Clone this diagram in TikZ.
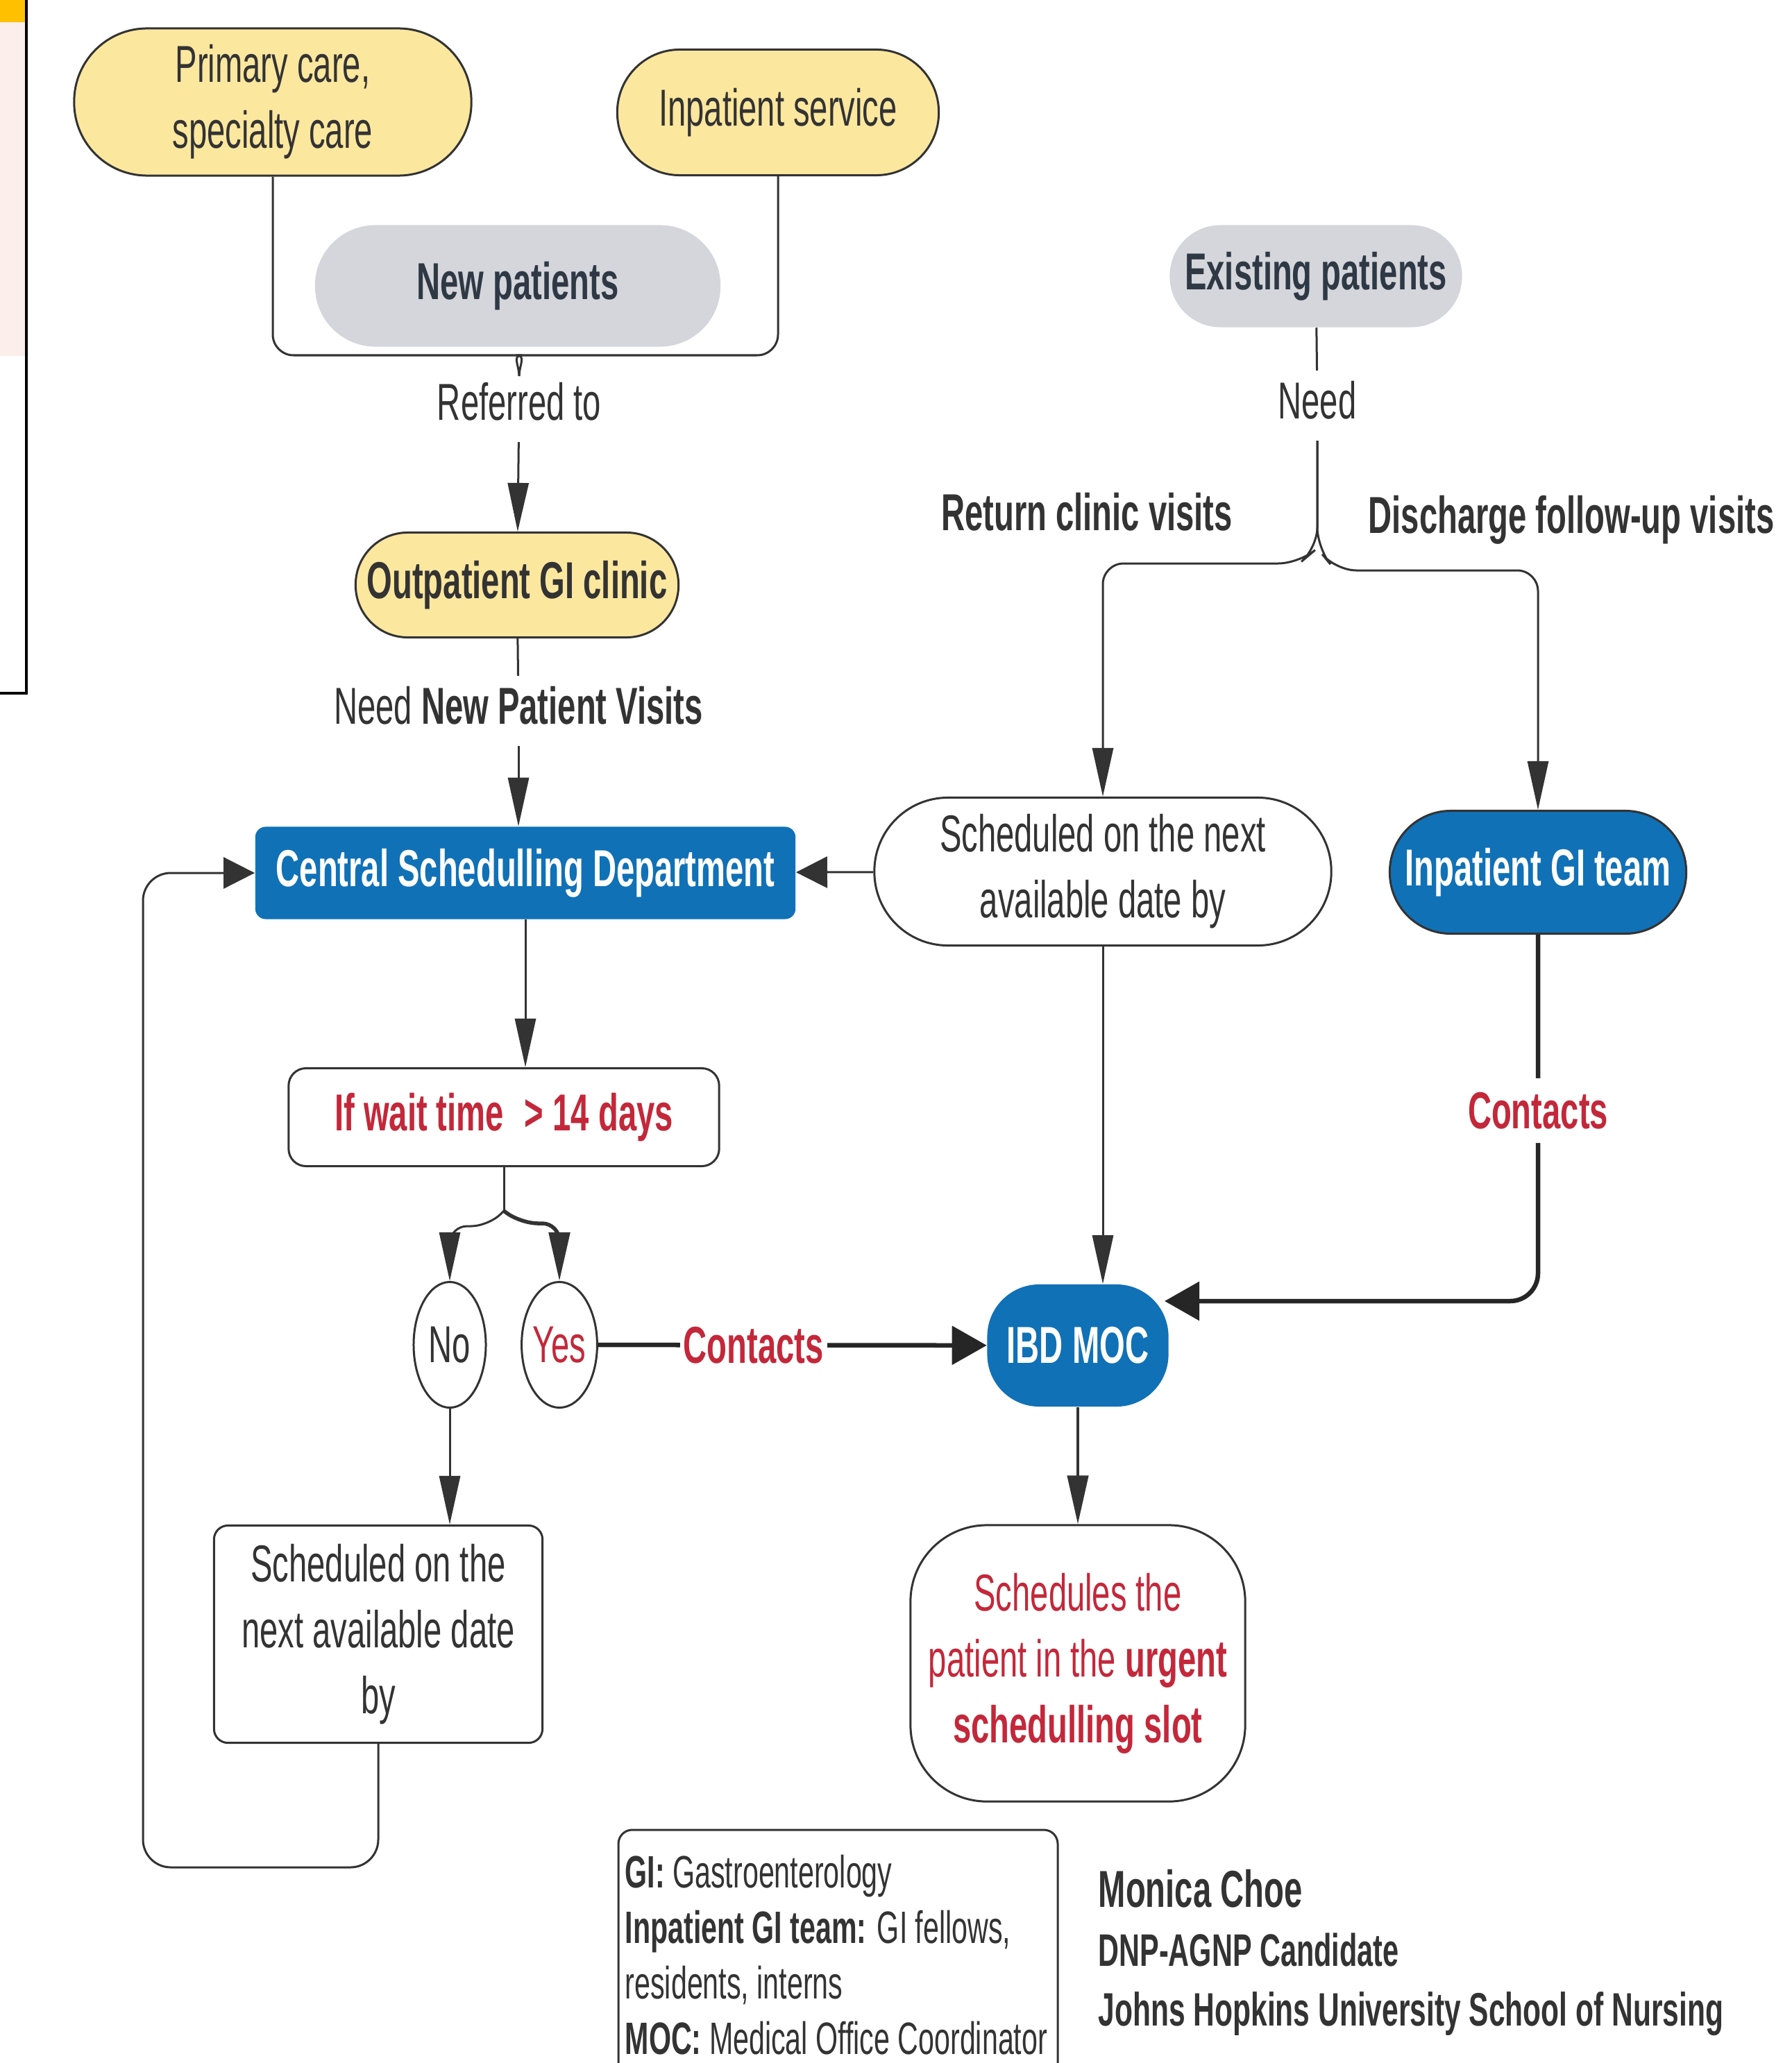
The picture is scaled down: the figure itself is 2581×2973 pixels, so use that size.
\documentclass[tikz,border=0pt]{standalone}
\usepackage{fontspec}
\setmainfont[FakeStretch=0.63]{Liberation Sans}
\usetikzlibrary{arrows.meta,shapes.geometric}

\definecolor{pillyellow}{HTML}{FCE79F}
\definecolor{pillgray}{HTML}{D4D6DB}
\definecolor{graytext}{HTML}{2F3945}
\definecolor{schedblue}{HTML}{1071B7}
\definecolor{alertred}{HTML}{C3283A}
\definecolor{linegray}{HTML}{333333}
\definecolor{tabyellow}{HTML}{FFC000}
\definecolor{tabpink}{HTML}{FCEEEA}

\newcommand{\mainsize}{\fontsize{21.3}{27}\selectfont}

\begin{document}
\begin{tikzpicture}[x=0.01cm, y=-0.01cm,
    every node/.style={font=\mainsize, text=linegray, inner sep=0pt, align=center},
    base/.style={draw=linegray, line width=0.3mm},
    ylw/.style={base, fill=pillyellow},
    greypill/.style={fill=pillgray, text=graytext, font=\mainsize\bfseries},
    bluepill/.style={fill=schedblue, text=white, font=\mainsize\bfseries},
    redbold/.style={text=alertred, font=\mainsize\bfseries},
    conn/.style={draw=linegray, line width=0.3mm},
    arr/.style={conn, -{Triangle[length=7mm,width=3mm]}},
    wide/.style={conn, -{Triangle[length=4.5mm,width=4.5mm]}},
    heavy/.style={draw=black!85, line width=0.65mm, -{Triangle[length=5mm,width=5.5mm]}}]
    \path[use as bounding box] (0,0) rectangle (2581,2973);
    \clip (0,0) rectangle (2581,2973);
    \fill[white] (0,0) rectangle (2581,2973);

    \fill[tabyellow] (0,0) rectangle (37,32);
    \fill[tabpink] (0,32) rectangle (37,513);
    \draw[line width=0.4mm, black] (38,0) -- (38,999) -- (0,999);

    \node[ylw, rounded corners=10.5mm, minimum width=57.2mm, minimum height=21.2mm] (primary) at (393,147) {Primary care,\\specialty care};
    \node[ylw, rounded corners=9mm, minimum width=46.3mm, minimum height=18.1mm] (inpatient) at (1121,162) {Inpatient service};
    \node[greypill, rounded corners=8.7mm, minimum width=58.4mm, minimum height=17.5mm] (newpat) at (746,412) {New patients};
    \node (referred) at (748,579) {Referred to};
    \node[ylw, rounded corners=7.5mm, minimum width=46.5mm, minimum height=15.1mm, font=\mainsize\bfseries] (outpatient) at (745,843) {Outpatient GI clinic};
    \node (needvisits) at (747,1017) {Need \textbf{New Patient Visits}};
    \node[greypill, rounded corners=7.3mm, minimum width=42.1mm, minimum height=14.7mm] (existing) at (1896,398) {Existing patients};
    \node (need) at (1898,577) {Need};
    \node[font=\mainsize\bfseries] (returnlbl) at (1566,738) {Return clinic visits};
    \node[font=\mainsize\bfseries] (dischargelbl) at (2264,749) {Discharge follow-up visits};
    \node[base, fill=white, rounded corners=10.6mm, minimum width=65.8mm, minimum height=21.3mm] (schedr) at (1589,1256) {Scheduled on the next\\available date by};
    \node[bluepill, draw=linegray, line width=0.3mm, rounded corners=8.8mm, minimum width=42.7mm, minimum height=17.7mm] (ingi) at (2216,1257) {Inpatient GI team};
    \node[bluepill, rounded corners=1.5mm, minimum width=77.8mm, minimum height=13.3mm] (central) at (757,1258) {Central Schedulling Department};
    \node[base, redbold, rounded corners=2.5mm, minimum width=62mm, minimum height=14.1mm] (waitbox) at (726,1610) {If wait time\hspace{3mm}> 14 days};
    \node[base, ellipse, minimum width=10.4mm, minimum height=18.1mm] (no) at (648,1938) {No};
    \node[base, ellipse, minimum width=10.4mm, minimum height=18.1mm, text=alertred] (yes) at (806,1938) {Yes};
    \node[bluepill, rounded corners=7.5mm, minimum width=26.1mm, minimum height=17.6mm] (ibd) at (1553,1939) {IBD MOC};
    \node[base, rounded corners=2mm, minimum width=47.3mm, minimum height=31.3mm] (schedl) at (545,2355) {Scheduled on the\\next available date\\by};
    \node[base, rounded corners=11mm, minimum width=48.2mm, minimum height=39.8mm, text=alertred] (urgent) at (1553,2397) {Schedules the\\patient in the \textbf{urgent}\\\textbf{schedulling slot}};

    \coordinate (refer) at (748,542);
    \coordinate (split) at (1898,790);
    \coordinate (fork) at (726,1745);
    \coordinate (ibdhit) at (1678,1875);

    \draw[conn, rounded corners=3mm] (primary.south) |- (722,512) to[out=0,in=90] (refer);
    \draw[conn, rounded corners=3mm] (inpatient.south) |- (774,512) to[out=180,in=90] (refer);
    \draw[arr, shorten <=3mm] (referred) -- (outpatient);
    \draw[conn, shorten >=1.5mm] (outpatient) -- (needvisits);
    \draw[arr, shorten <=3mm] (needvisits) -- (needvisits |- central.north);
    \draw[conn, shorten >=1.5mm] (existing) -- (need);
    \draw[arr, shorten <=3mm, rounded corners=3mm] (need) -- (split) -- (1872,812) -| (schedr.north);
    \draw[arr, shorten <=3mm, rounded corners=3mm] (need) -- (split) -- (1924,822) -| (ingi.north);
    \draw[wide] (schedr) -- (central);
    \draw[arr] (schedr.south) -- (schedr.south |- ibd.north);
    \draw[heavy, rounded corners=4mm] (ingi) -- node[pos=0.48, fill=white, inner sep=2mm, redbold] (contactsb) {Contacts} (ingi |- ibdhit) -- (ibdhit);
    \draw[arr] (central.south) -- (central.south |- waitbox.north);
    \draw[conn] (waitbox.south) -- (fork);
    \draw[arr, rounded corners=2.5mm] (fork) -- (704,1767) -| (no.north);
    \draw[arr, line width=0.55mm, rounded corners=2.5mm] (fork) -- (750,1763) -| (yes.north);
    \draw[heavy] (yes) -- node[pos=0.4, fill=white, inner xsep=0.5mm, redbold] (contactsa) {Contacts} (ibd);
    \draw[arr] (no) -- (no |- schedl.north);
    \draw[arr, line width=0.45mm] (ibd) -- (urgent);
    \draw[wide, rounded corners=4mm] (schedl.south) |- (206,2691) |- (central.west);

    \draw[conn, rounded corners=2mm] (891,3060) -- (891,2637) -- (1524,2637) -- (1524,3060);
    \node[anchor=north west, align=left, font=\fontsize{18.6}{22.8}\selectfont] (legend) at (900,2672) {\textbf{GI:} Gastroenterology\\\textbf{Inpatient GI team:} GI fellows,\\residents, interns\\\textbf{MOC:} Medical Office Coordinator};
    \node[anchor=base west, font=\mainsize\bfseries] (author) at (1582,2748) {Monica Choe};
    \node[anchor=base west, font=\fontsize{18.7}{22}\selectfont\bfseries] (degree) at (1582,2833) {DNP-AGNP Candidate};
    \node[anchor=base west, font=\fontsize{19.2}{22}\selectfont\bfseries] (school) at (1582,2919) {Johns Hopkins University School of Nursing};
\end{tikzpicture}
\end{document}
